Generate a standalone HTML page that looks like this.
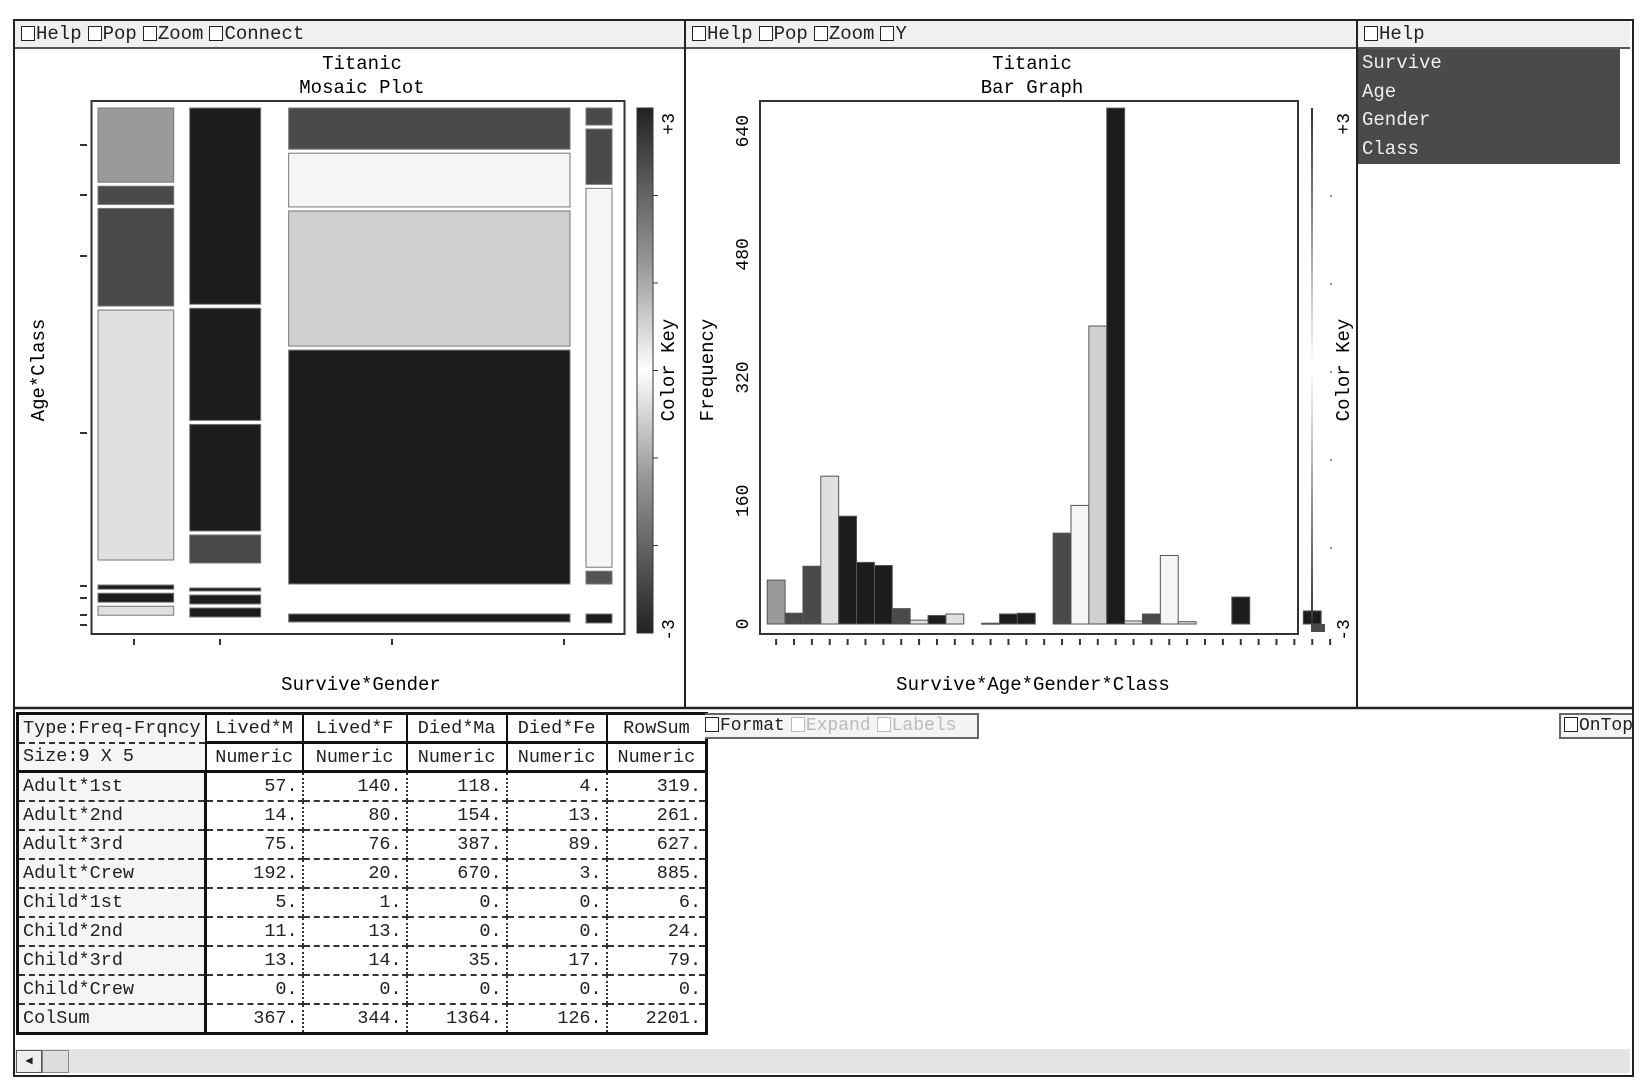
<!DOCTYPE html>
<html><head><meta charset="utf-8">
<style>
html,body{margin:0;padding:0;background:#fff;}
body{width:1643px;height:1089px;position:relative;overflow:hidden;font-family:"Liberation Mono",monospace;color:#222;}
.abs{position:absolute;}
.tb{position:absolute;background:#f0f0f0;border-bottom:2px solid #555;font-size:19px;line-height:26px;white-space:nowrap;}
.cb{display:inline-block;width:12px;height:13px;border:1.5px solid #222;vertical-align:-2px;margin:0 1px 0 6px;background:#fff;}
table.dt{position:absolute;left:16px;top:712px;border-collapse:collapse;border:3px solid #111;font-size:18.5px;}
table.dt td{padding:0 4px;height:27px;border-right:2px dotted #333;border-bottom:2px dashed #333;text-align:right;white-space:nowrap;}
table.dt td.lab{text-align:left;background:#f5f5f5;border-right:3px solid #111;}
table.dt tr.h td{text-align:center;border-bottom:3px solid #111;border-right:2px solid #111;height:26px;}
table.dt tr.h td.lab{text-align:left;border-bottom:2px dashed #333;}
table.dt tr.h2 td{border-bottom:3px solid #111;}
</style></head><body>
<div class="abs" style="left:13px;top:19px;width:1617px;height:1054px;border:2px solid #222;"></div>

<div class="tb" style="left:15px;top:21px;width:669px;height:26px;">
<span><span class="cb"></span>Help</span><span><span class="cb"></span>Pop</span><span><span class="cb"></span>Zoom</span><span><span class="cb"></span>Connect</span></div>
<div class="tb" style="left:686px;top:21px;width:670px;height:26px;">
<span><span class="cb"></span>Help</span><span><span class="cb"></span>Pop</span><span><span class="cb"></span>Zoom</span><span><span class="cb"></span>Y</span></div>
<div class="tb" style="left:1358px;top:21px;width:272px;height:26px;">
<span><span class="cb"></span>Help</span></div>

<div class="abs" style="left:1358px;top:49px;width:262px;height:115px;background:#4a4a4a;color:#eee;font-size:19px;line-height:28.5px;padding-left:4px;box-sizing:border-box;">
<div>Survive</div>
<div>Age</div>
<div>Gender</div>
<div>Class</div>
</div>

<svg class="abs" style="left:0;top:0" width="1643" height="1089" font-family="Liberation Mono, monospace">
<line x1="685" y1="19" x2="685" y2="708" stroke="#222" stroke-width="2"/>
<line x1="1357" y1="19" x2="1357" y2="708" stroke="#222" stroke-width="2"/>
<line x1="13" y1="708" x2="1632" y2="708" stroke="#222" stroke-width="2.5"/>
<g id="mosaic"></g>
<g id="bars"></g>
</svg>

<table class="dt">
<colgroup><col style="width:186px"><col style="width:97px"><col style="width:104px"><col style="width:100px"><col style="width:100px"><col style="width:100px"></colgroup>
<tr class="h"><td class="lab">Type:Freq-Frqncy</td><td>Lived*M</td><td>Lived*F</td><td>Died*Ma</td><td>Died*Fe</td><td style="border-right:none">RowSum</td></tr>
<tr class="h h2"><td class="lab" style="border-bottom:3px solid #111">Size:9 X 5</td><td>Numeric</td><td>Numeric</td><td>Numeric</td><td>Numeric</td><td style="border-right:none">Numeric</td></tr>
<tbody id="tbody"></tbody>
</table>

<div class="abs" style="left:705px;top:713px;width:272px;height:22px;border:2px solid #666;border-left:none;background:#f4f4f4;font-size:18px;line-height:22px;white-space:nowrap;">
<span><span class="cb" style="margin-left:0"></span>Format</span><span style="color:#bbb"><span class="cb" style="border-color:#bbb"></span>Expand</span><span style="color:#bbb"><span class="cb" style="border-color:#bbb"></span>Labels</span></div>
<div class="abs" style="left:1559px;top:713px;width:71px;height:22px;border:2px solid #666;border-right:none;background:#f4f4f4;font-size:18px;line-height:22px;white-space:nowrap;overflow:hidden;"><span class="cb" style="margin-left:3px"></span>OnTop</div>

<div class="abs" style="left:15px;top:1049px;width:1615px;height:24px;background:#e4e4e4;"></div>
<div class="abs" style="left:16px;top:1050px;width:24px;height:21px;border:1px solid #555;background:#eee;font-size:12px;line-height:21px;text-align:center;">&#9664;</div>
<div class="abs" style="left:42px;top:1050px;width:25px;height:21px;border:1px solid #888;background:#ddd;"></div>

<script>
// ---------- data ----------
const colLabels = ["Lived*M","Lived*F","Died*Ma","Died*Fe"];
const rowLabels = ["Adult*1st","Adult*2nd","Adult*3rd","Adult*Crew","Child*1st","Child*2nd","Child*3rd","Child*Crew"];
const livedM = [57,14,75,192,5,11,13,0];
const livedF = [140,80,76,20,1,13,14,0];
const diedM  = [118,154,387,670,0,0,35,0];
const diedF  = [4,13,89,3,0,0,17,0];
// residual shading per cell (mosaic)
const shadeLM = ["#9a9a9a","#4a4a4a","#4a4a4a","#e0e0e0","#1c1c1c","#1c1c1c","#e0e0e0","#fff"];
const shadeLF = ["#1c1c1c","#1c1c1c","#1c1c1c","#4a4a4a","#1c1c1c","#1c1c1c","#1c1c1c","#fff"];
const shadeDM = ["#4a4a4a","#f5f5f5","#d0d0d0","#1c1c1c","#fff","#fff","#1c1c1c","#fff"];
const shadeDF = ["#4a4a4a","#4a4a4a","#f5f5f5","#555555","#fff","#fff","#1c1c1c","#fff"];
// bar graph: Survive*Age*Gender*Class order
const barValues = [57,14,75,192, 140,80,76,20, 5,11,13,0, 1,13,14,0, 118,154,387,670, 4,13,89,3, 0,0,35,0, 0,0,17,0];
const barShades = ["#9a9a9a","#4a4a4a","#4a4a4a","#e0e0e0","#1c1c1c","#1c1c1c","#1c1c1c","#4a4a4a","#e0e0e0","#1c1c1c","#e0e0e0","#fff","#ddd","#1c1c1c","#1c1c1c","#fff","#4a4a4a","#f5f5f5","#d0d0d0","#1c1c1c","#ddd","#4a4a4a","#f5f5f5","#ddd","#fff","#fff","#1c1c1c","#fff","#fff","#fff","#1c1c1c","#fff"];
const yTicks = [0,160,320,480,640];

const NS="http://www.w3.org/2000/svg";
function mk(parent,tag,attrs,text){const e=document.createElementNS(NS,tag);for(const k in attrs)e.setAttribute(k,attrs[k]);if(text!==undefined)e.textContent=text;parent.appendChild(e);return e;}

// ---------- mosaic ----------
(function(){
const g=document.getElementById('mosaic');
const t1=mk(g,'text',{x:362,y:69,'text-anchor':'middle','font-size':19},'Titanic');


const t2=mk(g,'text',{x:362,y:93,'text-anchor':'middle','font-size':19},'Mosaic Plot');


const fr=mk(g,'rect',{x:91.5,y:101,width:533,height:533,fill:'#fff',stroke:'#333','stroke-width':2});


const cols=[livedM,livedF,diedM,diedF];
const shades=[shadeLM,shadeLF,shadeDM,shadeDF];
const colTot=cols.map(c=>c.reduce((a,b)=>a+b,0));
const grand=colTot.reduce((a,b)=>a+b,0);
const gaps=[16,28,16];
const totalW=454, x0=98;
const xs=[];let cx=x0;
colTot.forEach((t,i)=>{const w=t/grand*totalW;xs.push([cx,w]);cx+=w+(gaps[i]||0);});
const top=108, gap=4;
const adultBottom=[560,563,584,584];
const childTop=[585,588,614,614];
cols.forEach((c,ci)=>{
  const adultTot=c.slice(0,4).reduce((a,b)=>a+b,0);
  const sc=(adultBottom[ci]-top-3*gap)/adultTot;
  let y=top;
  for(let r=0;r<4;r++){
    const h=c[r]*sc;
    const el=mk(g,'rect',{x:xs[ci][0],y:y,width:xs[ci][1],height:Math.max(h,1),fill:shades[ci][r],stroke:'#777','stroke-width':1});
    
    
    y+=h+gap;
  }
  let yc=childTop[ci];
  for(let r=4;r<8;r++){
    if(c[r]<=0)continue;
    const h=Math.min(c[r]*sc*0.65,9);
    const el=mk(g,'rect',{x:xs[ci][0],y:yc,width:xs[ci][1],height:Math.max(h,3),fill:shades[ci][r],stroke:'#777','stroke-width':1});
    
    
    yc+=Math.max(h,3)+gap;
  }
});
[145,195,256,433,586,598,615,625].forEach(y=>{mk(g,'line',{x1:80,x2:87,y1:y,y2:y,stroke:'#333','stroke-width':2});});
[134,220,392,564].forEach(x=>{mk(g,'line',{x1:x,x2:x,y1:639,y2:645,stroke:'#333','stroke-width':2});});
const yl=mk(g,'text',{x:0,y:0,transform:'translate(44,370) rotate(-90)','text-anchor':'middle','font-size':19},'Age*Class');


const xl=mk(g,'text',{x:361,y:690,'text-anchor':'middle','font-size':19},'Survive*Gender');


const defs=mk(g,'defs',{});
const lg=mk(defs,'linearGradient',{id:'ck',x1:0,y1:0,x2:0,y2:1});
[['0','#222'],['0.3','#999'],['0.5','#fff'],['0.7','#999'],['1','#222']].forEach(([o,c])=>mk(lg,'stop',{offset:o,'stop-color':c}));
const ck=mk(g,'rect',{x:637,y:108,width:16,height:525,fill:'url(#ck)',stroke:'#333','stroke-width':1});


for(let i=1;i<6;i++){const y=108+i*525/6;mk(g,'line',{x1:653,x2:658,y1:y,y2:y,stroke:'#333','stroke-width':1});}
mk(g,'text',{transform:'translate(674,113) rotate(-90)','text-anchor':'end','font-size':18},'+3');
mk(g,'text',{transform:'translate(674,630) rotate(-90)','text-anchor':'middle','font-size':18},'-3');
const ckt=mk(g,'text',{transform:'translate(674,370) rotate(-90)','text-anchor':'middle','font-size':19},'Color Key');


})();

// ---------- bar graph ----------
(function(){
const g=document.getElementById('bars');
const yScale=v=>624-v*0.77;
const bx=i=>767.2+17.87*i;
const bw=17.87;
const t1=mk(g,'text',{x:1032,y:69,'text-anchor':'middle','font-size':19},'Titanic');


const t2=mk(g,'text',{x:1032,y:93,'text-anchor':'middle','font-size':19},'Bar Graph');


const fr=mk(g,'rect',{x:760,y:101,width:538,height:533,fill:'#fff',stroke:'#333','stroke-width':2});


yTicks.forEach(v=>{
  const tx=mk(g,'text',{transform:'translate(748,'+yScale(v)+') rotate(-90)','text-anchor':'middle','font-size':18},String(v));
  
  
});
barValues.forEach((v,i)=>{
  if(v<=0)return;
  const y=yScale(v);
  const r=mk(g,'rect',{x:bx(i),y:y,width:bw,height:Math.max(624-y,1),fill:barShades[i],stroke:'#555','stroke-width':1});
  
  
});
for(let i=0;i<32;i++){const x=bx(i)+bw/2;mk(g,'line',{x1:x,x2:x,y1:639,y2:645,stroke:'#333','stroke-width':2});}
const yl=mk(g,'text',{transform:'translate(713,370) rotate(-90)','text-anchor':'middle','font-size':19},'Frequency');


const xl=mk(g,'text',{x:1033,y:690,'text-anchor':'middle','font-size':19},'Survive*Age*Gender*Class');


const defs=mk(g,'defs',{});
const lg=mk(defs,'linearGradient',{id:'ck2',x1:0,y1:0,x2:0,y2:1});
[['0','#333'],['0.5','#fff'],['1','#333']].forEach(([o,c])=>mk(lg,'stop',{offset:o,'stop-color':c}));
const ck=mk(g,'rect',{x:1311,y:108,width:2,height:518,fill:'url(#ck2)'});


mk(g,'rect',{x:1311,y:624,width:14,height:8,fill:'#4a4a4a'});
[196,284,372,460,548].forEach(y=>mk(g,'circle',{cx:1331,cy:y,r:1,fill:'#666'}));
mk(g,'text',{transform:'translate(1349,113) rotate(-90)','text-anchor':'end','font-size':18},'+3');
mk(g,'text',{transform:'translate(1349,630) rotate(-90)','text-anchor':'middle','font-size':18},'-3');
const ckt=mk(g,'text',{transform:'translate(1349,370) rotate(-90)','text-anchor':'middle','font-size':19},'Color Key');


})();

// ---------- table ----------
(function(){
const tb=document.getElementById('tbody');
const cols=[livedM,livedF,diedM,diedF];
const rows=rowLabels.map((l,r)=>[l,...cols.map(c=>c[r])]);
const colSum=cols.map(c=>c.reduce((a,b)=>a+b,0));
rows.push(['ColSum',...colSum]);
rows.forEach((row,ri)=>{
  const tr=document.createElement('tr');
  
  
  const vals=row.slice(1);
  const all=[row[0],...vals,vals.reduce((a,b)=>a+b,0)];
  all.forEach((v,ci)=>{
    const td=document.createElement('td');
    if(ci===0)td.className='lab';
    td.textContent=ci===0?v:v+'.';
    if(ci===5)td.style.borderRight='none';
    if(ri===rows.length-1)td.style.borderBottom='none';
    
    
    tr.appendChild(td);
  });
  tb.appendChild(tr);
});
})();
</script>
</body></html>
